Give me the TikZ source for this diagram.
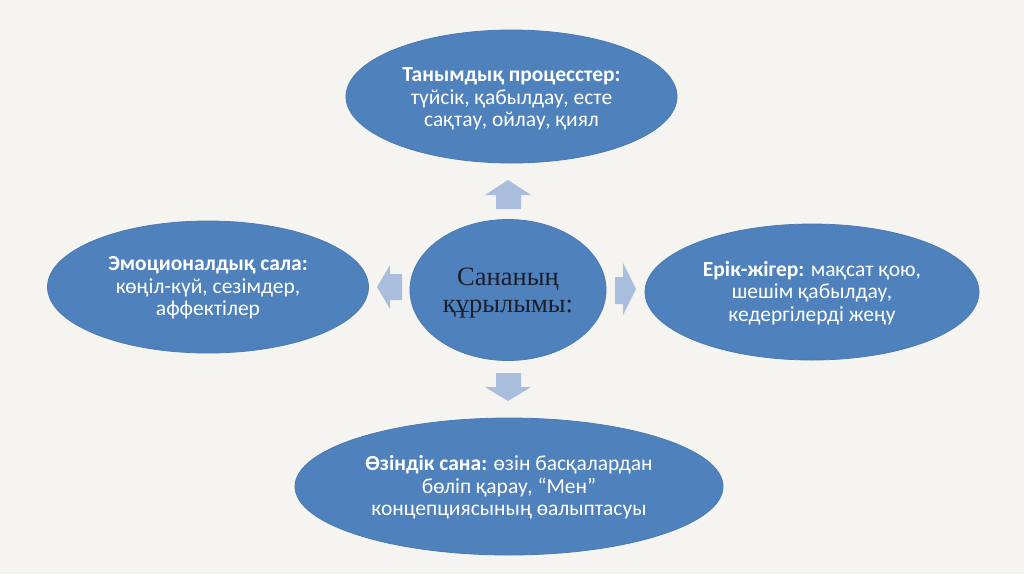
\documentclass[tikz,border=0pt]{standalone}
\usepackage{fontspec}
\setmainfont{Carlito}
\newfontfamily\serifcjk{Liberation Serif}
\usetikzlibrary{shapes.geometric}
\definecolor{bg}{HTML}{F5F4F1}
\definecolor{ellblue}{HTML}{4F81BD}
\definecolor{ellline}{HTML}{4A7AB4}
\definecolor{arrblue}{HTML}{A9BDDC}
\definecolor{centertext}{HTML}{1A1F2B}
\tikzset{
  oval/.style={ellipse, fill=ellblue, draw=ellline, line width=0.8pt, inner sep=0pt},
  bodytext/.style={text=white, align=center, inner sep=0pt, font=\fontsize{21.5}{22.5}\selectfont},
  centerlabel/.style={text=centertext, align=center, inner sep=0pt, font=\serifcjk\fontsize{26.5}{26.5}\selectfont},
  blockarrow/.style={fill=arrblue, draw=none}
}
\begin{document}
\begin{tikzpicture}[x=1pt,y=-1pt]
\fill[bg] (0,0) rectangle (1024,574);
\useasboundingbox (0,0) rectangle (1024,574);
% ellipses
\node[oval, minimum width=331pt, minimum height=133pt] (top) at (511.5,96.5) {};
\node[oval, minimum width=196pt, minimum height=141pt] (center) at (508,290) {};
\node[oval, minimum width=321pt, minimum height=132pt] (left) at (208,287) {};
\node[oval, minimum width=334pt, minimum height=136pt] (right) at (812,292) {};
\node[oval, minimum width=428pt, minimum height=137pt] (bottom) at (509,486.5) {};
% texts
\node[bodytext] (toptext) at ([yshift=-2.5pt]top.center)
  {\textbf{Танымдық процесстер:}\\түйсік, қабылдау, есте\\сақтау, ойлау, қиял};
\node[centerlabel] (centertxt) at ([yshift=-3pt]center.center)
  {Сананың\\құрылымы:};
\node[bodytext] (lefttext) at ([yshift=-1pt]left.center)
  {\textbf{Эмоционалдық сала:}\\көңіл-күй, сезімдер,\\аффектілер};
\node[bodytext] (righttext) at ([yshift=-1pt]right.center)
  {\textbf{Ерік-жігер:} мақсат қою,\\шешім қабылдау,\\кедергілерді жеңу};
\node[bodytext] (bottomtext) at ([yshift=-1pt]bottom.center)
  {\textbf{Өзіндік сана:} өзін басқалардан\\бөліп қарау, “Мен”\\концепциясының өалыптасуы};
% block arrows
\fill[blockarrow] (496,209) -- (496,195) -- (485,195) -- (508,180) -- (531,195) -- (521,195) -- (521,209) -- cycle;
\fill[blockarrow] (496,373) -- (496,387) -- (485,387) -- (508,401) -- (531,387) -- (521,387) -- (521,373) -- cycle;
\fill[blockarrow] (402,274) -- (390,274) -- (390,265) -- (377,287) -- (390,309) -- (390,300) -- (402,300) -- cycle;
\fill[blockarrow] (615,277) -- (623,277) -- (623,263) -- (636,289) -- (623,315) -- (623,304) -- (615,304) -- cycle;
\end{tikzpicture}
\end{document}
